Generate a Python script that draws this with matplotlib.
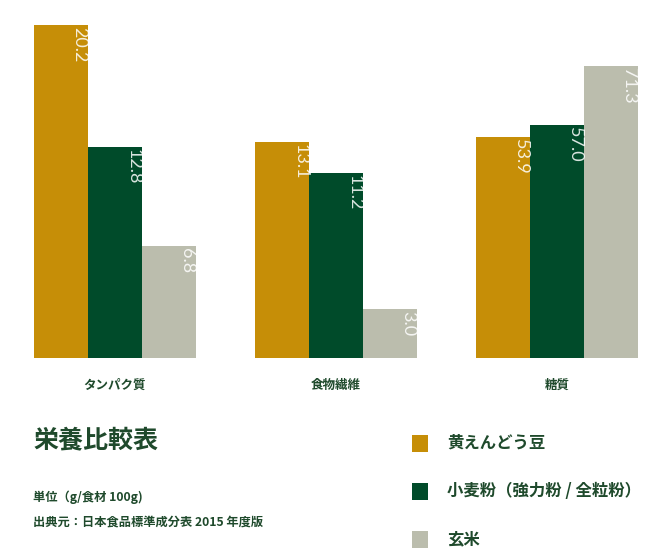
import matplotlib
matplotlib.use("Agg")
from matplotlib import pyplot as plt
from matplotlib.patches import Rectangle

plt.rcParams["font.family"] = ["Noto Sans CJK JP", "DejaVu Sans"]

CATEGORIES = ["タンパク質", "食物繊維", "糖質"]
SERIES = ["黄えんどう豆", "小麦粉（強力粉 / 全粒粉）", "玄米"]
PEA = [20.2, 13.1, 53.9]
WHEAT = [12.8, 11.2, 57.0]
RICE = [6.8, 3.0, 71.3]

COLORS = ["#C68E07", "#004B2A", "#BBBDAD"]
TEXT_COLOR = "#1F4A2C"
# each group has its own vertical scale (px per unit differs in the original)
GROUP_YMAX = [21.7, 21.7, 87.4]
GROUP_LEFT_PX = [34, 255, 476]

W, H = 670, 558


def main():
    fig = plt.figure(figsize=(W / 100, H / 100), dpi=100)
    values = list(zip(PEA, WHEAT, RICE))

    for i, cat in enumerate(CATEGORIES):
        ax = fig.add_axes([GROUP_LEFT_PX[i] / W, (H - 358) / H, 162 / W, 358 / H])
        xs = [0, 1, 2]
        ax.bar(xs, values[i], width=1.0, color=COLORS, linewidth=0)
        for x, v in zip(xs, values[i]):
            ax.annotate(f"{v:.1f}", xy=(x + 0.5, v), xytext=(-0.5, -1.5),
                        textcoords="offset points", rotation=270,
                        ha="right", va="top", color="white", alpha=0.85,
                        fontsize=13, family=["Lato", "DejaVu Sans"],
                        fontweight="normal")
        ax.set_xlim(-0.5, 2.5)
        ax.set_ylim(0, GROUP_YMAX[i])
        ax.set_xticks([1])
        ax.set_xticklabels([cat], fontsize=9, fontweight="bold", color=TEXT_COLOR)
        ax.tick_params(axis="x", length=0, pad=15)
        ax.set_yticks([])
        for s in ax.spines.values():
            s.set_visible(False)

    fig.text(33 / W, 1 - 440 / H, "栄養比較表", fontsize=18, fontweight="bold",
             color=TEXT_COLOR, va="center", ha="left")
    fig.text(33 / W, 1 - 497 / H, "単位（g/食材 100g)", fontsize=8.8, fontweight="bold",
             color=TEXT_COLOR, va="center", ha="left")
    fig.text(33 / W, 1 - 522 / H, "出典元：日本食品標準成分表 2015 年度版", fontsize=8.8,
             fontweight="bold", color=TEXT_COLOR, va="center", ha="left")

    for j, (name, c) in enumerate(zip(SERIES, COLORS)):
        yc = 443 + j * 48
        fig.patches.append(Rectangle((412 / W, 1 - (yc + 8.5) / H), 16 / W, 17 / H,
                                     transform=fig.transFigure, color=c, lw=0))
        fig.text(447 / W, 1 - yc / H, name, fontsize=11.8, fontweight="bold",
                 color=TEXT_COLOR, va="center", ha="left")

    fig.savefig("out.png", dpi=100, facecolor="white")


if __name__ == "__main__":
    main()
